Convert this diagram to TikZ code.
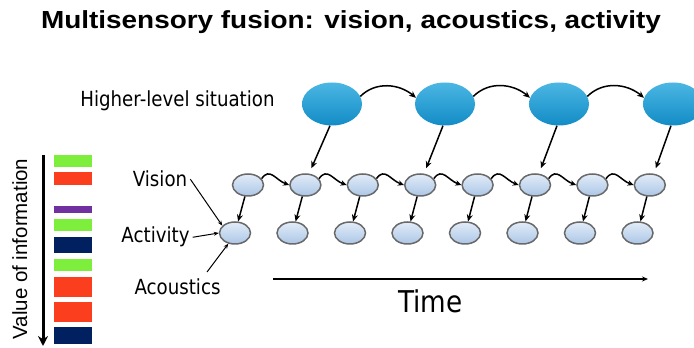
\documentclass[tikz,border=0pt]{standalone}
\usepackage{fontspec}
\setmainfont{Liberation Sans}
\newfontfamily\titlefont[FakeStretch=1.13]{Liberation Sans}
\newfontfamily\labelfont[FakeStretch=0.875]{DejaVu Sans}
\usetikzlibrary{arrows.meta,shapes.geometric,calc}

\definecolor{situation}{RGB}{30,164,220}
\definecolor{situationdark}{RGB}{18,140,198}
\definecolor{obstop}{RGB}{226,236,248}
\definecolor{obsbot}{RGB}{172,198,230}
\definecolor{obsrim}{RGB}{105,105,105}
\definecolor{barlime}{RGB}{125,238,60}
\definecolor{barred}{RGB}{250,62,30}
\definecolor{barpurple}{RGB}{112,48,160}
\definecolor{barnavy}{RGB}{0,32,96}

\tikzset{
  situationnode/.style={ellipse, minimum width=60pt, minimum height=43pt, inner sep=0pt,
    top color=situation!80!white, bottom color=situationdark, draw=none},
  obsnode/.style={ellipse, minimum width=31pt, minimum height=22pt, inner sep=0pt,
    top color=obstop, bottom color=obsbot, draw=obsrim, line width=1.5pt},
  link/.style={line width=1.5pt, -{Stealth[length=7pt,width=6pt]}},
  hop/.style={line width=1.5pt, -{Stealth[length=6pt,width=5.5pt]}},
  pointer/.style={line width=1pt, -{Stealth[length=5pt,width=4pt]}},
  caption/.style={inner sep=0pt, anchor=base, font=\labelfont\fontsize{20.8}{24}\selectfont},
}

\begin{document}
\begin{tikzpicture}[x=1pt,y=1pt]
\useasboundingbox (0,0) rectangle (694,348);
\begin{scope}
\clip (0,0) rectangle (694,348);

% title
\node[inner sep=0pt, anchor=base, font=\titlefont\bfseries\fontsize{24.7}{30}\selectfont]
  (title) at (351,319) {Multisensory fusion: vision, acoustics, activity};

% higher-level situation chain
\foreach \i/\x in {1/332,2/445,3/559,4/673}
  \node[situationnode] (b\i) at (\x,244) {};
\foreach \i/\j in {1/2,2/3,3/4}
  \draw[link] (b\i.15) to[out=45,in=140] (b\j.168);

% vision and activity rows
\foreach \i in {1,...,8} {
  \node[obsnode] (v\i) at ({248+57.4*(\i-1)},163) {};
  \node[obsnode] (a\i) at ({235+57.5*(\i-1)},115) {};
}
\foreach \i in {1,...,8}
  \draw[link] (v\i) -- (a\i);
\foreach \i [evaluate=\i as \j using int(\i+1)] in {1,...,7}
  \draw[hop] (v\i.25) to[out=55,in=160,looseness=1.3] (v\j.west);

% situation to vision links
\foreach \i/\k in {1/2,2/4,3/6,4/8}
  \draw[link] ([xshift=-2pt]b\i.south) -- ($(v\k.north)+(6,5)$);

% labels
\node[caption] (lhl) at (177.5,241) {Higher-level situation};
\node[caption] (lv) at (160,161) {Vision};
\node[caption] (la) at (155.5,105) {Activity};
\node[caption] (lc) at (177.5,53) {Acoustics};
\coordinate (cstart) at (207,76);
\draw[pointer] ([xshift=3pt]lv.east) -- (a1.150);
\draw[pointer] ([xshift=3pt]la.east) -- (a1.west);
\draw[pointer] (cstart) -- (a1.238);

% time axis
\coordinate (tstart) at (273,69);
\coordinate (tend) at (648,69);
\draw[line width=1.5pt, -{Stealth[length=6pt,width=5pt]}] (tstart) -- (tend);
\node[inner sep=0pt, anchor=base, font=\labelfont\fontsize{30}{36}\selectfont] (time) at (430.5,35) {Time};

% value of information scale
\coordinate (vtop) at (43,193);
\coordinate (vbot) at (43,2);
\draw[line width=3pt, -{Stealth[length=10pt,width=10pt]}] (vtop) -- (vbot);
\node[inner sep=0pt, anchor=base, rotate=90, font=\fontsize{20.5}{25}\selectfont] (value) at (27,99) {Value of information};

\fill[barlime]   (54,181) rectangle (92,193);
\fill[barred]    (54,163) rectangle (92,176);
\fill[barpurple] (54,135) rectangle (92,142);
\fill[barlime]   (54,117) rectangle (92,129);
\fill[barnavy]   (54,95)  rectangle (92,111);
\fill[barlime]   (54,77)  rectangle (92,89);
\fill[barred]    (54,51)  rectangle (92,71);
\fill[barred]    (54,26)  rectangle (92,46);
\fill[barnavy]   (54,4)   rectangle (92,21);
\end{scope}
\end{tikzpicture}
\end{document}
